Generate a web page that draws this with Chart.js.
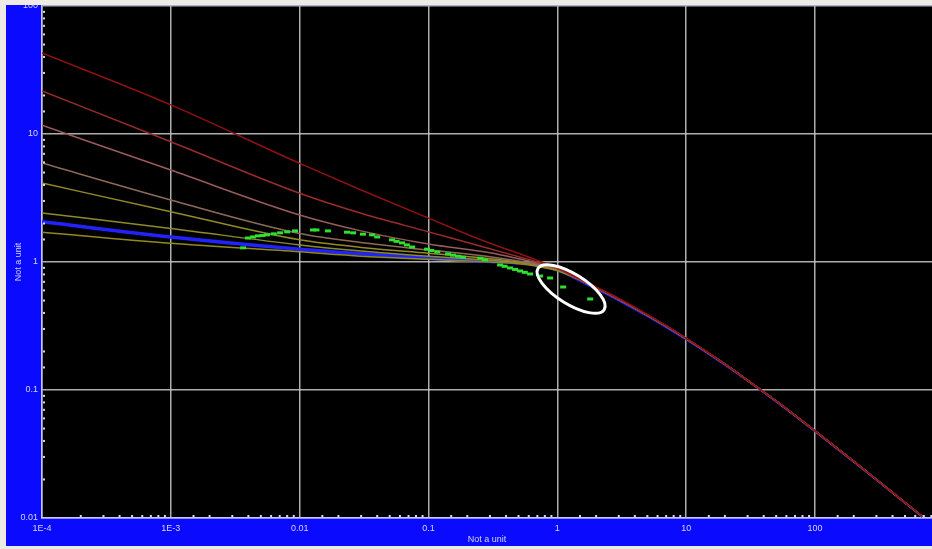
<!DOCTYPE html>
<html>
<head>
<meta charset="utf-8">
<script src="https://cdn.jsdelivr.net/npm/chart.js@4"></script>
<style>
  html, body { margin: 0; padding: 0; width: 932px; height: 549px; overflow: hidden; background: #eeeae5; }
  #wrap { position: absolute; left: 6px; top: 5px; width: 926px; height: 541px; }
</style>
</head>
<body>
<div id="wrap"><canvas id="c" width="926" height="541"></canvas></div>
<script>
// ---- values ----
const headX = [1e-4, 1e-3, 0.01, 0.03, 0.1, 0.3, 0.5, 0.7, 1];
const tailX = [1.5, 2, 3, 5, 7, 10, 20, 30, 50, 100, 200, 300, 500, 680];

const curve1 = [43, 16.9, 5.9, 3.65, 2.2, 1.40, 1.17, 1.03, 0.90];
const curve2 = [21.7, 8.7, 3.44, 2.4, 1.72, 1.27, 1.10, 1.00, 0.89];
const curve3 = [11.7, 5.23, 2.33, 1.75, 1.38, 1.18, 1.06, 0.98, 0.885];
const curve4 = [5.93, 3.05, 1.67, 1.42, 1.24, 1.10, 1.02, 0.96, 0.88];
const curve5 = [4.14, 2.47, 1.49, 1.30, 1.17, 1.06, 1.00, 0.95, 0.875];
const curve6 = [2.42, 1.83, 1.36, 1.22, 1.11, 1.03, 0.99, 0.94, 0.87];
const curve7 = [1.71, 1.40, 1.20, 1.11, 1.05, 1.00, 0.97, 0.925, 0.855];
const blueHead = [2.06, 1.57, 1.26, 1.16, 1.07, 1.01, 0.98, 0.93, 0.86];

const redTail  = [0.74, 0.64, 0.52, 0.39, 0.318, 0.254, 0.159, 0.119, 0.082, 0.048, 0.0277, 0.0200, 0.0132, 0.0103];
const warmTail = [0.725, 0.628, 0.511, 0.385, 0.315, 0.252, 0.159, 0.119, 0.082, 0.048, 0.0277, 0.0200, 0.0132, 0.0103];
const blueTail = [0.71, 0.615, 0.50, 0.377, 0.309, 0.248, 0.157, 0.118, 0.081, 0.0475, 0.0274, 0.0198, 0.0131, 0.0102];

const dotX = [0.00364, 0.00397, 0.00435, 0.00475, 0.00515, 0.00558, 0.0063, 0.00705, 0.008, 0.0092,
              0.0127, 0.0135, 0.0166, 0.0233, 0.026, 0.031, 0.0365, 0.040, 0.0521, 0.0565,
              0.0623, 0.068, 0.0746, 0.0975, 0.105, 0.117, 0.142, 0.155, 0.170, 0.185,
              0.252, 0.275, 0.36, 0.39, 0.43, 0.47, 0.514, 0.56, 0.615, 0.735, 0.879, 1.11, 1.80];
const dotY = [1.29, 1.54, 1.57, 1.60, 1.61, 1.63, 1.66, 1.69, 1.72, 1.75,
              1.78, 1.78, 1.75, 1.71, 1.69, 1.65, 1.63, 1.57, 1.49, 1.45,
              1.41, 1.36, 1.31, 1.26, 1.23, 1.20, 1.155, 1.13, 1.11, 1.09,
              1.07, 1.04, 0.948, 0.925, 0.898, 0.875, 0.851, 0.83, 0.806, 0.777, 0.75, 0.638, 0.514];

const xTickValues = [1e-4, 1e-3, 0.01, 0.1, 1, 10, 100];
const xTickLabels = ['1E-4', '1E-3', '0.01', '0.1', '1', '10', '100'];
const yTickValues = [0.01, 0.1, 1, 10, 100];
const yTickLabels = ['0.01', '0.1', '1', '10', '100'];

const axisTitle = 'Not a unit';
const highlight = { x: 1.28, y: 0.615 };   // centre of the circled region

// ---- styling ----
const labelColor = '#d4d4ff';
const gridColor = 'rgba(205,205,205,0.85)';
const axisColor = '#c4c4ff';
const fontFamily = '"Liberation Sans", Arial, sans-serif';

const isMajor = v => Math.abs(Math.log10(v) - Math.round(Math.log10(v))) < 1e-6;
const labelFor = (v, vals, labels) => {
  const i = vals.findIndex(t => Math.abs(Math.log10(t) - Math.log10(v)) < 1e-6);
  return i >= 0 ? labels[i] : '';
};
const pts = (xs, ys) => xs.map((x, i) => ({ x, y: ys[i] }));
const allX = headX.concat(tailX);

const backdrop = {
  id: 'backdrop',
  beforeDraw(chart) {
    const { ctx, chartArea: a, width, height } = chart;
    ctx.save();
    ctx.fillStyle = '#0a0aff';
    ctx.fillRect(0, 0, width, height);
    ctx.fillStyle = '#000000';
    ctx.fillRect(a.left, a.top, a.right - a.left, a.bottom - a.top);
    ctx.restore();
  }
};

const minorTicks = {
  id: 'minorTicks',
  afterDraw(chart) {
    const { ctx, chartArea: a, scales: { x, y } } = chart;
    ctx.save();
    ctx.fillStyle = '#d8d8e8';
    x.ticks.forEach(t => {
      if (!isMajor(t.value)) {
        const px = x.getPixelForValue(t.value);
        ctx.fillRect(px - 1, a.bottom - 3, 2, 2);
      }
    });
    y.ticks.forEach(t => {
      if (!isMajor(t.value)) {
        const py = y.getPixelForValue(t.value);
        ctx.fillRect(a.left + 1, py - 1, 2, 2);
      }
    });
    ctx.restore();
  }
};

const ring = {
  id: 'ring',
  afterDatasetsDraw(chart) {
    const { ctx, scales: { x, y } } = chart;
    const cx = x.getPixelForValue(highlight.x);
    const cy = y.getPixelForValue(highlight.y);
    ctx.save();
    ctx.beginPath();
    ctx.ellipse(cx, cy, 39, 15, 32 * Math.PI / 180, 0, Math.PI * 2);
    ctx.strokeStyle = '#ffffff';
    ctx.lineWidth = 3;
    ctx.stroke();
    ctx.restore();
  }
};

const curveSet = (ys, tail, color) => ({
  data: pts(allX, ys.concat(tail)),
  borderColor: color,
  borderWidth: 1.5,
  pointRadius: 0,
  cubicInterpolationMode: 'monotone',
  fill: false
});

new Chart(document.getElementById('c'), {
  type: 'line',
  data: {
    datasets: [
      {
        data: pts(dotX, dotY),
        showLine: false,
        pointStyle: 'line',
        pointRadius: 3,
        pointHoverRadius: 3,
        pointBorderWidth: 3,
        pointBorderColor: '#2fe02f',
        pointBackgroundColor: '#2fe02f'
      },
      curveSet(curve1, redTail, '#8e1212'),
      curveSet(curve2, warmTail, '#9a2c2c'),
      curveSet(curve3, warmTail, '#9c5b5b'),
      curveSet(curve4, warmTail, '#8e6a58'),
      curveSet(curve5, warmTail, '#958a28'),
      curveSet(curve6, warmTail, '#8c8a2e'),
      curveSet(curve7, warmTail, '#908a1e'),
      {
        data: pts(allX, blueHead.concat(blueTail)),
        borderColor: '#2222ff',
        borderWidth: 3,
        pointRadius: 0,
        cubicInterpolationMode: 'monotone',
        segment: { borderWidth: c => (c.p0.parsed.x < 0.4 ? 3.5 : 2) },
        fill: false
      }
    ]
  },
  options: {
    responsive: false,
    animation: false,
    layout: { autoPadding: false, padding: { top: 1, right: 0, left: 0, bottom: 0 } },
    plugins: { legend: { display: false }, tooltip: { enabled: false } },
    scales: {
      x: {
        type: 'logarithmic',
        position: 'bottom',
        min: 1e-4,
        max: 810,
        grid: {
          color: c => (c.tick && isMajor(c.tick.value) ? gridColor : 'rgba(0,0,0,0)'),
          lineWidth: 1.5,
          drawTicks: false
        },
        border: { color: axisColor, width: 1.5 },
        ticks: {
          autoSkip: false,
          maxRotation: 0,
          padding: 5,
          color: labelColor,
          font: { family: fontFamily, size: 9 },
          callback: v => labelFor(v, xTickValues, xTickLabels)
        },
        title: {
          display: true,
          text: axisTitle,
          color: labelColor,
          font: { family: fontFamily, size: 9 },
          padding: { top: 0, bottom: 1 }
        },
        afterFit: s => { s.height = 28; s.paddingLeft = 0; s.paddingRight = 0; }
      },
      y: {
        type: 'logarithmic',
        min: 0.01,
        max: 100,
        grid: {
          color: c => (c.tick && isMajor(c.tick.value) ? gridColor : 'rgba(0,0,0,0)'),
          lineWidth: 1.5,
          drawTicks: false
        },
        border: { color: axisColor, width: 1.5 },
        ticks: {
          autoSkip: false,
          padding: 4,
          color: labelColor,
          font: { family: fontFamily, size: 9 },
          callback: v => labelFor(v, yTickValues, yTickLabels)
        },
        title: {
          display: true,
          text: axisTitle,
          color: labelColor,
          font: { family: fontFamily, size: 9 },
          padding: { top: 7, bottom: 0 }
        },
        afterFit: s => { s.width = 36; s.paddingTop = 0; s.paddingBottom = 0; }
      }
    }
  },
  plugins: [backdrop, minorTicks, ring]
});
</script>
</body>
</html>
